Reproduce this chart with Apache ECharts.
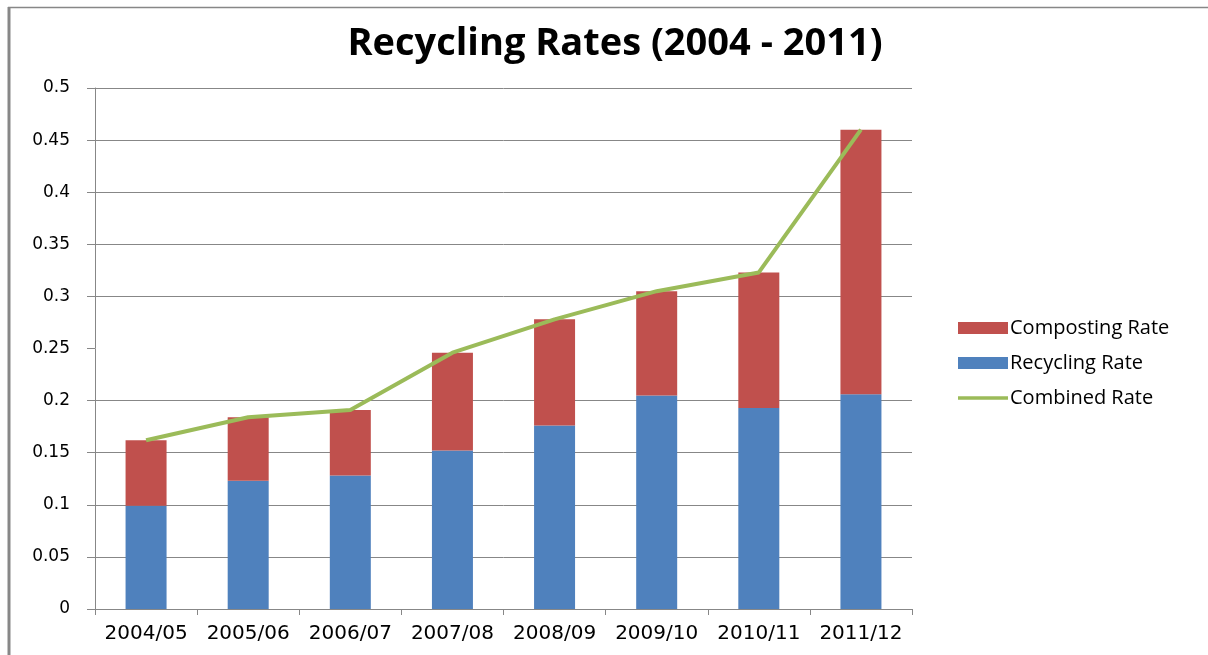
<!DOCTYPE html>
<html>
<head>
<meta charset="utf-8">
<script src="https://cdn.jsdelivr.net/npm/echarts@6/dist/echarts.min.js"></script>
<style>
  html, body { margin: 0; padding: 0; background: #fff; }
  #chart { width: 1208px; height: 655px; }
</style>
</head>
<body>
<div id="chart"></div>
<script>
// data
const years = ['2004/05', '2005/06', '2006/07', '2007/08', '2008/09', '2009/10', '2010/11', '2011/12'];
const recyclingRate = [0.099, 0.123, 0.128, 0.152, 0.176, 0.205, 0.193, 0.206];
const compostingRate = [0.063, 0.061, 0.063, 0.094, 0.102, 0.100, 0.130, 0.254];
const combinedRate = [0.162, 0.184, 0.191, 0.246, 0.278, 0.305, 0.323, 0.460];
// horizontal gridlines drawn in the original (the 0.25 one is missing there)
const gridLevels = [0.05, 0.1, 0.15, 0.2, 0.3, 0.35, 0.4, 0.45, 0.5];

const gray = '#878787';

const chart = echarts.init(document.getElementById('chart'));
const option = {
  animation: false,
  backgroundColor: '#fff',
  title: {
    text: 'Recycling Rates (2004 - 2011)',
    left: 610,
    textAlign: 'center',
    top: 20,
    textStyle: { fontFamily: 'Open Sans', fontWeight: 'bold', fontSize: 38, color: '#000' }
  },
  legend: {
    orient: 'vertical',
    left: 953,
    top: 313,
    itemWidth: 50,
    itemHeight: 12,
    itemGap: 15,
    textStyle: { fontFamily: 'Open Sans', fontSize: 20, color: '#000', lineHeight: 20, padding: [0, 0, 0, -3] },
    data: [
      { name: 'Composting Rate', icon: 'rect' },
      { name: 'Recycling Rate', icon: 'rect' },
      { name: 'Combined Rate', icon: 'path://M0,0 L50,0 L50,3.5 L0,3.5 Z' }
    ]
  },
  grid: { left: 95, right: 296, top: 88, bottom: 46 },
  xAxis: {
    type: 'category',
    data: years,
    axisLine: { lineStyle: { color: gray, width: 1 } },
    axisTick: { show: true, length: 6, lineStyle: { color: gray } },
    axisLabel: { interval: 0, fontFamily: 'DejaVu Sans', fontSize: 20, color: '#000', margin: 15 }
  },
  yAxis: {
    type: 'value',
    min: 0,
    max: 0.5,
    interval: 0.05,
    axisLine: { show: true, lineStyle: { color: gray, width: 1 } },
    axisTick: { show: true, inside: false, length: 8, lineStyle: { color: gray } },
    axisLabel: {
      fontFamily: 'DejaVu Sans', fontSize: 17, color: '#000', margin: 25,
      formatter: v => String(parseFloat(v.toFixed(2)))
    },
    splitLine: { show: false }
  },
  series: [
    {
      name: 'Recycling Rate',
      type: 'bar',
      stack: 'rate',
      barWidth: 41,
      itemStyle: { color: '#4F81BD' },
      data: recyclingRate,
      z: 2,
      markLine: {
        silent: true,
        symbol: 'none',
        label: { show: false },
        lineStyle: { color: gray, width: 1, type: 'solid' },
        z: 1,
        data: gridLevels.map(v => ({ yAxis: v }))
      }
    },
    {
      name: 'Composting Rate',
      type: 'bar',
      stack: 'rate',
      barWidth: 41,
      itemStyle: { color: '#C0504D' },
      data: compostingRate,
      z: 2
    },
    {
      name: 'Combined Rate',
      type: 'line',
      symbol: 'none',
      lineStyle: { color: '#9BBB59', width: 4 },
      itemStyle: { color: '#9BBB59' },
      data: combinedRate,
      z: 3
    }
  ],
  graphic: [
    // frame of the original picture (left and top edges)
    { type: 'line', shape: { x1: 9, y1: 7, x2: 9, y2: 655 }, style: { stroke: gray, lineWidth: 3 } },
    { type: 'line', shape: { x1: 8, y1: 7.5, x2: 1208, y2: 7.5 }, style: { stroke: gray, lineWidth: 1.5 } }
  ]
};
chart.setOption(option);
</script>
</body>
</html>
